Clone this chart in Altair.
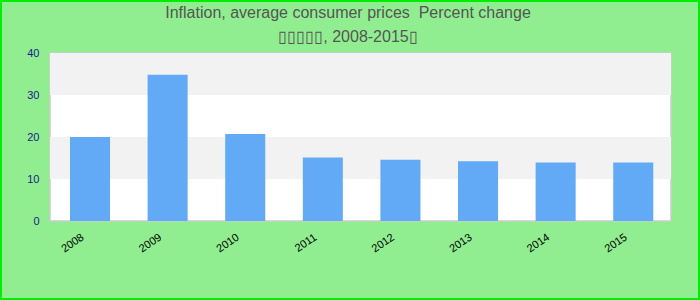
import altair as alt
import pandas as pd

years = ["2008", "2009", "2010", "2011", "2012", "2013", "2014", "2015"]
values = [20.0, 34.8, 20.7, 15.1, 14.6, 14.2, 13.9, 13.9]
band_lo = [10, 30]
band_hi = [20, 40]
title_lines = ["Inflation, average consumer prices\u00a0 Percent change",
               "\u25af\u25af\u25af\u25af\u25af, 2008-2015\u25af"]

W, H = 621, 168
PAD = {"left": 50, "top": 53, "right": 29, "bottom": 79}

df = pd.DataFrame({"year": years, "value": values})
bands = pd.DataFrame({"lo": band_lo, "hi": band_hi})
title_df = pd.DataFrame({"t": ["\n".join(title_lines)]})

yscale = alt.Scale(domain=[0, 40], nice=False)

band_layer = alt.Chart(bands).mark_rect(color="#f2f2f2").encode(
    x=alt.value(0), x2=alt.value(W),
    y=alt.Y("lo:Q", scale=yscale,
            axis=alt.Axis(values=[0, 10, 20, 30, 40], title=None, grid=False,
                          domain=False, ticks=False, labelPadding=11,
                          labelColor="#1a1a8c", labelFontSize=11,
                          labelFont="Liberation Sans")),
    y2="hi:Q",
)

bars = alt.Chart(df).mark_bar(color="#62aaf5").encode(
    x=alt.X("year:N", sort=years, title=None,
            scale=alt.Scale(paddingInner=0.484, paddingOuter=0.243, align=0.53),
            axis=alt.Axis(labelAngle=-34, labelAlign="right", labelBaseline="middle",
                          labelPadding=15, labelOffset=-7, domain=False, ticks=False,
                          labelColor="#000000", labelFontSize=11,
                          labelFont="Liberation Sans")),
    y=alt.Y("value:Q", scale=yscale),
)

border = alt.Chart(df).mark_rect(fill=None, stroke="#00ee00", strokeWidth=2).encode(
    x=alt.value(-PAD["left"] + 1), x2=alt.value(W + PAD["right"] - 1),
    y=alt.value(-PAD["top"] + 1), y2=alt.value(H + PAD["bottom"] - 1),
)

title = alt.Chart(title_df).mark_text(
    font="Liberation Sans", fontSize=16, color="#555555", align="center",
    baseline="alphabetic", lineBreak="\n", lineHeight=24,
).encode(text="t:N", x=alt.value(298), y=alt.value(-35))

chart = alt.layer(band_layer, bars, border, title).properties(
    width=W, height=H,
    autosize=alt.AutoSizeParams(type="none"),
    padding=PAD,
    background="#90ee90",
).configure_view(fill="white", stroke="#cccccc", strokeWidth=1.5)

chart.save("out.html", embed_options={"renderer": "svg", "actions": False})
